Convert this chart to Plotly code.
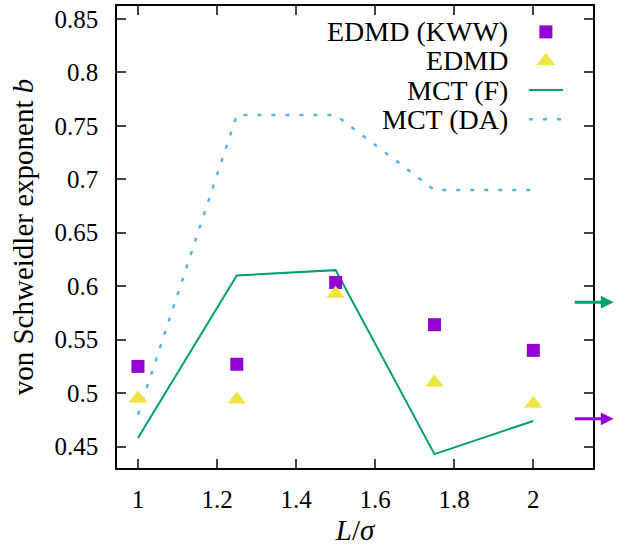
import plotly.graph_objects as go

# ---- data ----
L_sigma = [1.0, 1.25, 1.5, 1.75, 2.0]
edmd_kww = [0.525, 0.527, 0.6035, 0.564, 0.540]
edmd = [0.495, 0.494, 0.593, 0.510, 0.490]
mct_f = [0.458, 0.610, 0.615, 0.443, 0.474]
mct_da = [0.480, 0.760, 0.760, 0.690, 0.690]
arrow_F = 0.585
arrow_KWW = 0.476
x_ticks = [1, 1.2, 1.4, 1.6, 1.8, 2]
y_ticks = [0.45, 0.5, 0.55, 0.6, 0.65, 0.7, 0.75, 0.8, 0.85]

PURPLE = "#9400D3"
YELLOW = "#F0E442"
GREEN = "#009E73"
BLUE = "#56B4E9"
FONT = "Liberation Serif"
FS = 25
FS_LEG = 28
FS_TITLE = 29

fig = go.Figure()
fig.add_trace(go.Scatter(x=L_sigma, y=mct_da, mode="lines",
                         line=dict(color=BLUE, width=2.5, dash="4px,10px"),
                         showlegend=False))
fig.add_trace(go.Scatter(x=L_sigma, y=mct_f, mode="lines",
                         line=dict(color=GREEN, width=2), showlegend=False))
fig.add_trace(go.Scatter(x=L_sigma, y=edmd_kww, mode="markers",
                         marker=dict(symbol="square", size=13, color=PURPLE),
                         showlegend=False))
fig.add_trace(go.Scatter(x=L_sigma, y=edmd, mode="markers",
                         marker=dict(symbol="triangle-up", size=16, color=YELLOW),
                         showlegend=False))

# ---- manual legend (text on left, key on right, gnuplot style) ----
labels = ["EDMD (KWW)", "EDMD", "MCT (F)", "MCT (DA)"]
rows = [0.944, 0.881, 0.818, 0.755]
tx = 0.826
kx0, kx1, kxc = 0.8655, 0.937, 0.901
fig.add_trace(go.Scatter(x=[kxc], y=[rows[0]], xaxis="x2", yaxis="y2", mode="markers",
                         marker=dict(symbol="square", size=13, color=PURPLE), showlegend=False))
fig.add_trace(go.Scatter(x=[kxc], y=[rows[1]], xaxis="x2", yaxis="y2", mode="markers",
                         marker=dict(symbol="triangle-up", size=16, color=YELLOW), showlegend=False))
fig.add_trace(go.Scatter(x=[kx0, kx1], y=[rows[2]] * 2, xaxis="x2", yaxis="y2", mode="lines",
                         line=dict(color=GREEN, width=2), showlegend=False))
fig.add_trace(go.Scatter(x=[kx0, kx1], y=[rows[3]] * 2, xaxis="x2", yaxis="y2", mode="lines",
                         line=dict(color=BLUE, width=2.5, dash="4px,10px"), showlegend=False))
for lab, ry in zip(labels, rows):
    fig.add_annotation(x=tx, y=ry, xref="paper", yref="paper", text=lab,
                       showarrow=False, xanchor="right", yanchor="middle",
                       font=dict(family=FONT, size=FS_LEG, color="black"))

# ---- arrows at right edge ----
for yv, col in [(arrow_F, GREEN), (arrow_KWW, PURPLE)]:
    fig.add_annotation(x=2.203, y=yv, ax=2.101, ay=yv, xref="x", yref="y",
                       axref="x", ayref="y", showarrow=True, arrowhead=2,
                       arrowsize=0.85, arrowwidth=3, arrowcolor=col, text="")

axis_common = dict(showline=True, linecolor="black", linewidth=1.5, mirror="ticks",
                   ticks="inside", ticklen=9, tickwidth=1.5, tickcolor="#444",
                   showgrid=False, zeroline=False, automargin=False,
                   tickfont=dict(family=FONT, size=FS, color="black"))

fig.update_layout(
    width=634, height=546,
    margin=dict(l=117, r=41, t=6, b=78),
    paper_bgcolor="white", plot_bgcolor="white",
    font=dict(family=FONT, size=FS, color="black"),
    xaxis=dict(range=[0.947, 2.151], tickvals=x_ticks, ticklabelstandoff=8,
               title=dict(text="<i>L</i>/<i>σ</i>", standoff=8,
                          font=dict(family=FONT, size=FS_TITLE)), **axis_common),
    yaxis=dict(range=[0.43, 0.862], tickvals=y_ticks, ticklabelstandoff=12,
               title=dict(text="von Schweidler exponent <i>b</i>", standoff=12,
                          font=dict(family=FONT, size=FS_TITLE)), **axis_common),
    xaxis2=dict(overlaying="x", range=[0, 1], visible=False),
    yaxis2=dict(overlaying="y", range=[0, 1], visible=False),
)

fig.write_html("out.html", config={"displayModeBar": False},
               post_script="document.body.style.margin='0px';")
